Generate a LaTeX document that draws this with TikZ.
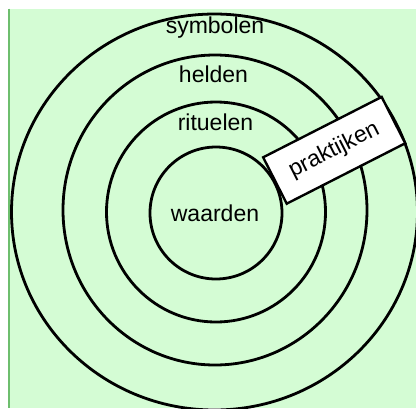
\documentclass[tikz,border=0pt]{standalone}
\usepackage{fontspec}
\newfontfamily\labfont{Liberation Sans}
\definecolor{bgreen}{RGB}{212,252,212}
\definecolor{edgegreen}{RGB}{110,190,110}
\tikzset{
  ring/.style={draw=black, line width=2.8pt},
  lab/.style={font=\labfont\fontsize{23}{27}\selectfont, inner sep=0pt, anchor=base},
  pbox/.style={draw=black, fill=white, line width=2.4pt, minimum width=133pt, minimum height=52pt, inner sep=0pt, rotate=27, font=\labfont\fontsize{23}{27}\selectfont}
}
\begin{document}
\begin{tikzpicture}[x=1pt,y=-1pt]
\useasboundingbox (0,0) rectangle (416,408);
\clip (0,0) rectangle (416,408);
\fill[bgreen] (8.5,8.5) rectangle (416,408);
\draw[edgegreen, line width=1.6pt] (8.8,8.5) -- (8.8,408);
\draw[ring] (214.5,212) ellipse [x radius=203, y radius=198];
\draw[ring] (215,210) ellipse [x radius=152, y radius=155];
\draw[ring] (216,212) ellipse [x radius=109.5, y radius=110];
\draw[ring] (216,213) ellipse [x radius=66, y radius=66];
\node[lab] (symbolen) at (215,33) {symbolen};
\node[lab] (helden) at (213.5,82) {helden};
\node[lab] (rituelen) at (215.5,130) {rituelen};
\node[lab] (waarden) at (215,221) {waarden};
\node[pbox] (praktijken) at (334.2,150.3) {praktijken};
\end{tikzpicture}
\end{document}
